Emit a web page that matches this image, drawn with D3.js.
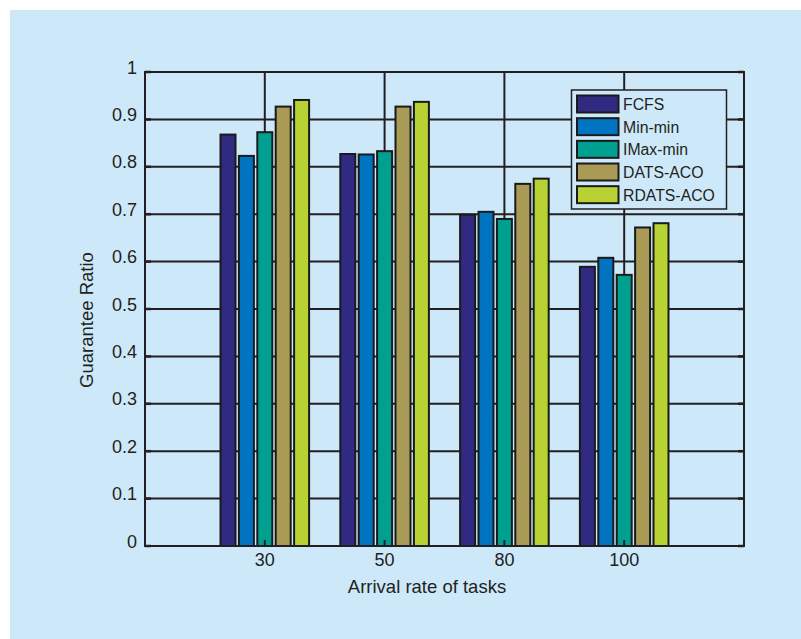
<!DOCTYPE html>
<html>
<head>
<meta charset="utf-8">
<script src="https://cdn.jsdelivr.net/npm/d3@7"></script>
<style>
  html, body { margin: 0; padding: 0; background: #ffffff; }
  svg { display: block; }
  text { font-family: "Liberation Sans", Arial, Helvetica, sans-serif; fill: #231f20; }
</style>
</head>
<body>
<svg id="chart" width="801" height="639"></svg>
<script>
// ---- data ----
const categories = ["30", "50", "80", "100"];
const seriesNames = ["FCFS", "Min-min", "IMax-min", "DATS-ACO", "RDATS-ACO"];
const fcfs     = [0.868, 0.827, 0.699, 0.589];
const minmin   = [0.823, 0.826, 0.705, 0.608];
const imaxmin  = [0.873, 0.833, 0.690, 0.572];
const datsAco  = [0.927, 0.927, 0.764, 0.672];
const rdatsAco = [0.941, 0.937, 0.775, 0.681];
const seriesColors = ["#312a82", "#0074c1", "#00a091", "#a99b56", "#b8d234"];
const yTicks = [0, 0.1, 0.2, 0.3, 0.4, 0.5, 0.6, 0.7, 0.8, 0.9, 1];
const xLabel = "Arrival rate of tasks";
const yLabel = "Guarantee Ratio";

const seriesValues = [fcfs, minmin, imaxmin, datsAco, rdatsAco];

const svg = d3.select("#chart");
const ink = "#231f20";

// background panel
svg.append("rect").attr("x", 10).attr("y", 10).attr("width", 791).attr("height", 629)
  .attr("fill", "#cde9f9");

const pLeft = 145, pRight = 744, pTop = 72, pBottom = 546;

const x = d3.scaleLinear().domain([0, categories.length + 1]).range([pLeft, pRight]);
const xi = d3.scaleBand().domain(seriesNames).range([-46, 46]).paddingInner(0.185).paddingOuter(0.0925);
const y = d3.scaleLinear().domain([0, 1]).range([pBottom, pTop]);

const g = svg.append("g");

// grid
g.selectAll("line.hg").data(yTicks).join("line")
  .attr("x1", pLeft).attr("x2", pRight)
  .attr("y1", d => y(d)).attr("y2", d => y(d))
  .attr("stroke", ink).attr("stroke-width", 2);
g.selectAll("line.vg").data(categories).join("line")
  .attr("x1", (d, i) => x(i + 1)).attr("x2", (d, i) => x(i + 1))
  .attr("y1", pTop).attr("y2", pBottom)
  .attr("stroke", ink).attr("stroke-width", 2);

// bars
seriesNames.forEach((name, s) => {
  g.append("g").selectAll("rect").data(seriesValues[s]).join("rect")
    .attr("x", (d, i) => x(i + 1) + xi(name))
    .attr("width", xi.bandwidth())
    .attr("y", d => y(d))
    .attr("height", d => y(0) - y(d))
    .attr("fill", seriesColors[s])
    .attr("stroke", "#1a1a1a").attr("stroke-width", 2);
});

// box
g.append("rect").attr("x", pLeft).attr("y", pTop).attr("width", pRight - pLeft).attr("height", pBottom - pTop)
  .attr("fill", "none").attr("stroke", ink).attr("stroke-width", 2);

// y ticks (left and right)
g.selectAll("line.yt").data(yTicks).join("line")
  .attr("x1", pLeft).attr("x2", pLeft + 6)
  .attr("y1", d => y(d)).attr("y2", d => y(d))
  .attr("stroke", ink).attr("stroke-width", 2.5);
g.selectAll("line.yt2").data(yTicks).join("line")
  .attr("x1", pRight - 6).attr("x2", pRight)
  .attr("y1", d => y(d)).attr("y2", d => y(d))
  .attr("stroke", ink).attr("stroke-width", 2.5);
// x ticks
g.selectAll("line.xt").data(categories).join("line")
  .attr("x1", (d, i) => x(i + 1)).attr("x2", (d, i) => x(i + 1))
  .attr("y1", pBottom).attr("y2", pBottom - 6)
  .attr("stroke", ink).attr("stroke-width", 2);

// y tick labels
g.selectAll("text.yl").data(yTicks).join("text")
  .attr("x", pLeft - 8).attr("y", d => y(d) + 1.5)
  .attr("text-anchor", "end").attr("font-size", 18)
  .text(d => String(+d.toFixed(1)));

// x tick labels
g.selectAll("text.xl").data(categories).join("text")
  .attr("x", (d, i) => x(i + 1)).attr("y", pBottom + 20)
  .attr("text-anchor", "middle").attr("font-size", 18)
  .text(d => d);

// axis titles
svg.append("text").attr("x", 427).attr("y", 593)
  .attr("text-anchor", "middle").attr("font-size", 18.5).text(xLabel);
svg.append("text").attr("transform", "translate(93,320) rotate(-90)")
  .attr("text-anchor", "middle").attr("font-size", 18.5).text(yLabel);

// legend
const lg = svg.append("g");
lg.append("rect").attr("x", 571.5).attr("y", 90).attr("width", 155).attr("height", 119)
  .attr("fill", "#cde9f9").attr("stroke", ink).attr("stroke-width", 1.5);
seriesNames.forEach((name, s) => {
  const ty = 95.5 + s * 22.67;
  lg.append("rect").attr("x", 577).attr("y", ty).attr("width", 41.5).attr("height", 17)
    .attr("fill", seriesColors[s]).attr("stroke", "#1a1a1a").attr("stroke-width", 2);
  lg.append("text").attr("x", 623).attr("y", ty + 14.5)
    .attr("font-size", 15.8).text(name);
});
</script>
</body>
</html>
